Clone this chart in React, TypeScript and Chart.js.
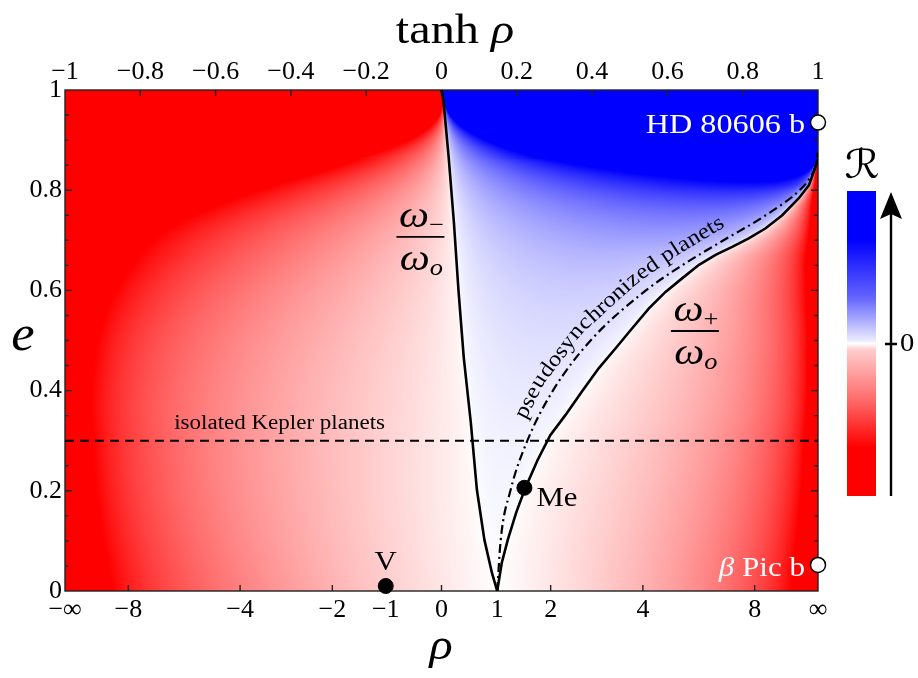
import React, { useEffect, useRef } from "react";
import { Chart, registerables } from "chart.js";

Chart.register(...registerables);

const SERIF = '"Liberation Serif", "Times New Roman", serif';

// ---------- axis data ----------
const RHO_SCALE = 6.7; // bottom axis: position = tanh(rho / RHO_SCALE)
const RHO_TICKS = [-Infinity, -8, -4, -2, -1, 0, 1, 2, 4, 8, Infinity];
const RHO_TICK_LABELS = ["−∞", "−8", "−4", "−2", "−1", "0", "1", "2", "4", "8", "∞"];
const TANH_TICKS = [-1, -0.8, -0.6, -0.4, -0.2, 0, 0.2, 0.4, 0.6, 0.8, 1];
const TANH_TICK_LABELS = ["−1", "−0.8", "−0.6", "−0.4", "−0.2", "0", "0.2", "0.4", "0.6", "0.8", "1"];
const E_TICKS = [0, 0.2, 0.4, 0.6, 0.8, 1];
const E_TICK_LABELS = ["0", "0.2", "0.4", "0.6", "0.8", "1"];
const E_MINOR_STEP = 0.05;

// ---------- curves (x in plot units, e) ----------
const OMEGA_MINUS_U = [0, 0.005, 0.019, 0.033, 0.045, 0.059, 0.078, 0.094, 0.114, 0.134, 0.148];
const OMEGA_MINUS_E = [1, 0.98, 0.866, 0.735, 0.601, 0.467, 0.335, 0.202, 0.102, 0.036, 0];

const OMEGA_PLUS_U = [0.148, 0.16, 0.176, 0.199, 0.223, 0.255, 0.289, 0.329, 0.373, 0.418, 0.462, 0.506, 0.551, 0.595, 0.639, 0.684, 0.728, 0.772, 0.816, 0.861, 0.905, 0.949, 0.976, 0.989, 1.0];
const OMEGA_PLUS_E = [0, 0.056, 0.102, 0.158, 0.206, 0.261, 0.311, 0.351, 0.398, 0.445, 0.484, 0.524, 0.564, 0.597, 0.624, 0.651, 0.671, 0.687, 0.704, 0.724, 0.75, 0.784, 0.81, 0.837, 0.862];

const PSEUDO_U = [0.148, 0.157, 0.183, 0.228, 0.296, 0.396, 0.543, 0.639, 0.749, 0.861, 0.951, 0.979, 0.994, 0.999];
const PSEUDO_E = [0, 0.1, 0.2, 0.3, 0.4, 0.5, 0.6, 0.65, 0.7, 0.75, 0.8, 0.825, 0.85, 0.875];

const KEPLER_E = 0.3;

// ---------- planets ----------
const PLANET_NAMES = ["V", "Me", "HD 80606 b", "β Pic b"];
const PLANET_RHO = [-1, 1.5, Infinity, Infinity];
const PLANET_E = [0.01, 0.206, 0.935, 0.052];

const rhoToU = (r: number) => Math.tanh(r / RHO_SCALE);
const uToRho = (u: number) => {
  const c = Math.max(-0.999999, Math.min(0.999999, u));
  return RHO_SCALE * Math.atanh(c);
};

function interpByE(es: number[], us: number[], e: number): number {
  for (let i = 0; i < es.length - 1; i++) {
    const a = es[i], b = es[i + 1];
    const lo = Math.min(a, b), hi = Math.max(a, b);
    if (e >= lo && e <= hi) {
      const t = b === a ? 0 : (e - a) / (b - a);
      return us[i] + t * (us[i + 1] - us[i]);
    }
  }
  const iMin = es[0] < es[es.length - 1] ? 0 : es.length - 1;
  const iMax = iMin === 0 ? es.length - 1 : 0;
  return e < es[iMin] ? us[iMin] : us[iMax];
}

type Part = { t: string; f: string; dy?: number };
function drawParts(ctx: CanvasRenderingContext2D, parts: Part[], x: number, y: number, align: "left" | "center" | "right", color: string, sx = 1, rot = 0, baseline: CanvasTextBaseline = "alphabetic") {
  ctx.save();
  ctx.translate(x, y);
  if (rot) ctx.rotate(rot);
  ctx.scale(sx, 1);
  ctx.fillStyle = color;
  ctx.textBaseline = baseline;
  ctx.textAlign = "left";
  const widths = parts.map((p) => { ctx.font = p.f; return ctx.measureText(p.t).width; });
  const total = widths.reduce((a, b) => a + b, 0);
  let cx = align === "left" ? 0 : align === "center" ? -total / 2 : -total;
  parts.forEach((p, i) => {
    ctx.font = p.f;
    ctx.fillText(p.t, cx, p.dy || 0);
    cx += widths[i];
  });
  ctx.restore();
}

// text that follows a pixel polyline, offset to the upper-left side
function drawTextOnPath(ctx: CanvasRenderingContext2D, text: string, pts: { x: number; y: number }[], centerS: number, offset: number, font: string, sx: number) {
  const cum = [0];
  for (let i = 1; i < pts.length; i++) cum.push(cum[i - 1] + Math.hypot(pts[i].x - pts[i - 1].x, pts[i].y - pts[i - 1].y));
  const at = (s: number) => {
    s = Math.max(0, Math.min(cum[cum.length - 1], s));
    let i = 1;
    while (i < cum.length - 1 && cum[i] < s) i++;
    const t = (s - cum[i - 1]) / Math.max(1e-9, cum[i] - cum[i - 1]);
    return { x: pts[i - 1].x + t * (pts[i].x - pts[i - 1].x), y: pts[i - 1].y + t * (pts[i].y - pts[i - 1].y) };
  };
  ctx.save();
  ctx.font = font;
  ctx.fillStyle = "#000";
  ctx.textAlign = "center";
  ctx.textBaseline = "alphabetic";
  const widths = Array.from(text).map((c) => ctx.measureText(c).width * sx);
  const total = widths.reduce((a, b) => a + b, 0);
  let s = centerS - total / 2;
  Array.from(text).forEach((c, i) => {
    const sc = s + widths[i] / 2;
    const p = at(sc);
    const a = at(sc - 14), b = at(sc + 14);
    let dx = b.x - a.x, dy = b.y - a.y;
    const L = Math.hypot(dx, dy) || 1;
    dx /= L; dy /= L;
    const nx = dy, ny = -dx;
    ctx.save();
    ctx.translate(p.x + nx * offset, p.y + ny * offset);
    ctx.rotate(Math.atan2(dy, dx));
    ctx.scale(sx, 1);
    ctx.fillText(c, 0, 0);
    ctx.restore();
    s += widths[i];
  });
  ctx.restore();
}

const fieldPlugin = {
  id: "field",
  beforeDatasetsDraw(chart: any) {
    const { ctx, chartArea } = chart;
    const xs = chart.scales.x, ys = chart.scales.y;
    const left = Math.round(chartArea.left), top = Math.round(chartArea.top);
    const w = Math.round(chartArea.right) - left, h = Math.round(chartArea.bottom) - top;
    const img = ctx.createImageData(w, h);
    const d = img.data;
    const plusMaxE = Math.max(...OMEGA_PLUS_E);
    const rhoCol: number[] = [];
    for (let i = 0; i < w; i++) rhoCol.push(uToRho(xs.getValueForPixel(left + i + 0.5)));
    for (let j = 0; j < h; j++) {
      const e = Math.max(0, Math.min(1, ys.getValueForPixel(top + j + 0.5)));
      const rm = uToRho(interpByE(OMEGA_MINUS_E, OMEGA_MINUS_U, e));
      let q = 0;
      if (e < plusMaxE) q = 1 / uToRho(interpByE(OMEGA_PLUS_E, OMEGA_PLUS_U, e));
      const ee = Math.min(e, 0.999);
      const S = Math.pow(1 - ee * ee, -3);
      for (let i = 0; i < w; i++) {
        const rho = rhoCol[i];
        const R = (rho - rm) * (1 - q * rho) * S;
        const I = Math.min(1, 0.1 * Math.sqrt(Math.abs(R)));
        const k = (j * w + i) * 4;
        const v = Math.round(255 * (1 - I));
        if (R < 0) { d[k] = 255; d[k + 1] = v; d[k + 2] = v; }
        else { d[k] = v; d[k + 1] = v; d[k + 2] = 255; }
        d[k + 3] = 255;
      }
    }
    ctx.putImageData(img, left, top);
  },
};

const framePlugin = {
  id: "frame",
  beforeDatasetsDraw(chart: any) {
    const { ctx, chartArea } = chart;
    const { left, right, top, bottom } = chartArea;
    const xs = chart.scales.x, x2 = chart.scales.x2, ys = chart.scales.y;
    ctx.save();
    ctx.strokeStyle = "#222";
    ctx.lineWidth = 1.4;
    ctx.strokeRect(left, top, right - left, bottom - top);
    ctx.beginPath();
    const n = Math.round(1 / E_MINOR_STEP);
    for (let k = 1; k < n; k++) {
      const y = ys.getPixelForValue(k * E_MINOR_STEP);
      const len = k % 4 === 0 ? 7 : 4;
      ctx.moveTo(left, y); ctx.lineTo(left + len, y);
      ctx.moveTo(right, y); ctx.lineTo(right - len, y);
    }
    TANH_TICKS.slice(1, -1).forEach((v) => {
      const x = x2.getPixelForValue(v);
      ctx.moveTo(x, top); ctx.lineTo(x, top + 6);
    });
    RHO_TICKS.slice(1, -1).forEach((r) => {
      const x = xs.getPixelForValue(rhoToU(r));
      ctx.moveTo(x, bottom); ctx.lineTo(x, bottom - 6);
    });
    ctx.stroke();
    ctx.restore();
  },
};

function fraction(ctx: CanvasRenderingContext2D, cx: number, cy: number, sub: string) {
  const big = `italic 37px ${SERIF}`;
  const small = `23px ${SERIF}`;
  const smallIt = `italic 23px ${SERIF}`;
  drawParts(ctx, [{ t: "ω", f: big }, { t: sub, f: small, dy: 5 }], cx + 1, cy - 10, "center", "#000", 1.15);
  drawParts(ctx, [{ t: "ω", f: big }, { t: "o", f: smallIt, dy: 5 }], cx + 1, cy + 33, "center", "#000", 1.15);
  ctx.save();
  ctx.strokeStyle = "#000";
  ctx.lineWidth = 1.8;
  ctx.beginPath();
  ctx.moveTo(cx - 24, cy); ctx.lineTo(cx + 24, cy);
  ctx.stroke();
  ctx.restore();
}

const labelPlugin = {
  id: "labels",
  afterDatasetsDraw(chart: any) {
    const { ctx } = chart;
    const xs = chart.scales.x, ys = chart.scales.y;
    const px = (u: number) => xs.getPixelForValue(u);
    const py = (e: number) => ys.getPixelForValue(e);

    // axis titles
    drawParts(ctx, [{ t: "tanh ", f: `42px ${SERIF}` }, { t: "ρ", f: `italic 42px ${SERIF}` }], 455, 43, "center", "#000", 1.15);
    drawParts(ctx, [{ t: "ρ", f: `italic 44px ${SERIF}` }], 441, 659, "center", "#000", 1.1);
    drawParts(ctx, [{ t: "e", f: `italic 50px ${SERIF}` }], 23, 350, "center", "#000", 1.05);

    // curve labels
    fraction(ctx, px(-0.056), py(0.707), "−");
    fraction(ctx, px(0.673), py(0.519), "+");

    // text along the pseudo-synchronisation curve
    const path: { x: number; y: number }[] = [];
    for (let i = 0; i < PSEUDO_U.length - 1; i++) {
      for (let k = 0; k < 8; k++) {
        const t = k / 8;
        const e = PSEUDO_E[i] + t * (PSEUDO_E[i + 1] - PSEUDO_E[i]);
        path.push({ x: px(interpByE(PSEUDO_E, PSEUDO_U, e)), y: py(e) });
      }
    }
    path.push({ x: px(PSEUDO_U[PSEUDO_U.length - 1]), y: py(PSEUDO_E[PSEUDO_E.length - 1]) });
    let sCenter = 0;
    for (let i = 1; i < path.length; i++) {
      if (ys.getValueForPixel(path[i].y) > 0.56) break;
      sCenter += Math.hypot(path[i].x - path[i - 1].x, path[i].y - path[i - 1].y);
    }
    drawTextOnPath(ctx, "pseudosynchronized planets", path, sCenter, 11, `22px ${SERIF}`, 1.12);

    drawParts(ctx, [{ t: "isolated Kepler planets", f: `20px ${SERIF}` }], px(-0.43), py(0.323), "center", "#000", 1.15);

    // planet labels
    const P = PLANET_RHO.map((r, i) => ({ x: px(rhoToU(r)), y: py(PLANET_E[i]) }));
    drawParts(ctx, [{ t: PLANET_NAMES[0], f: `28px ${SERIF}` }], P[0].x, P[0].y - 16, "center", "#000", 1.1);
    drawParts(ctx, [{ t: PLANET_NAMES[1], f: `28px ${SERIF}` }], P[1].x + 12, P[1].y + 18, "left", "#000", 1.1);
    drawParts(ctx, [{ t: PLANET_NAMES[2], f: `28px ${SERIF}` }], P[2].x - 13, P[2].y + 10, "right", "#fff", 1.15);
    drawParts(ctx, [{ t: "β", f: `italic 27px ${SERIF}` }, { t: PLANET_NAMES[3].slice(1), f: `27px ${SERIF}` }], P[3].x - 13, P[3].y + 11, "right", "#fff", 1.15);

    // colour bar
    const cbL = 847, cbR = 876, cbT = 191, cbB = 496;
    ctx.save();
    const g = ctx.createLinearGradient(0, cbT, 0, cbB);
    g.addColorStop(0, "rgb(0,0,255)");
    g.addColorStop(0.16, "rgb(0,0,255)");
    g.addColorStop(0.35, "rgb(100,100,255)");
    g.addColorStop(0.49, "rgb(235,235,255)");
    g.addColorStop(0.5, "rgb(255,255,255)");
    g.addColorStop(0.52, "rgb(255,205,205)");
    g.addColorStop(0.68, "rgb(255,110,110)");
    g.addColorStop(0.84, "rgb(255,0,0)");
    g.addColorStop(1, "rgb(255,0,0)");
    ctx.fillStyle = g;
    ctx.fillRect(cbL, cbT, cbR - cbL, cbB - cbT);
    ctx.strokeStyle = "#000";
    ctx.fillStyle = "#000";
    ctx.lineWidth = 2.4;
    ctx.beginPath();
    ctx.moveTo(891, cbB); ctx.lineTo(891, 214);
    ctx.moveTo(885, 344); ctx.lineTo(897, 344);
    ctx.stroke();
    ctx.beginPath();
    ctx.moveTo(880, 219); ctx.lineTo(891, 192); ctx.lineTo(902, 219); ctx.lineTo(891, 214);
    ctx.closePath();
    ctx.fill();
    ctx.restore();
    drawParts(ctx, [{ t: "0", f: `26px ${SERIF}` }], 900, 344, "left", "#000", 1.1, 0, "middle");
    drawParts(ctx, [{ t: "ℛ", f: `italic 40px "DejaVu Serif", "DejaVu Sans", serif` }], 862, 178, "center", "#000", 1.1);
  },
};

export default function App() {
  const ref = useRef<HTMLCanvasElement | null>(null);
  useEffect(() => {
    document.body.style.margin = "0";
    const canvas = ref.current;
    if (!canvas) return;
    const pts = (us: number[], es: number[]) => us.map((u, i) => ({ x: u, y: es[i] }));
    const planetPts = PLANET_RHO.map((r, i) => ({ x: rhoToU(r), y: PLANET_E[i] }));
    const tickFont = { family: SERIF, size: 26 };
    const chart = new Chart(canvas, {
      type: "scatter",
      data: {
        datasets: [
          { label: "ω−/ωo", data: pts(OMEGA_MINUS_U, OMEGA_MINUS_E), showLine: true, borderColor: "#000", borderWidth: 2.6, pointRadius: 0 },
          { label: "ω+/ωo", data: pts(OMEGA_PLUS_U, OMEGA_PLUS_E), showLine: true, borderColor: "#000", borderWidth: 2.6, pointRadius: 0 },
          { label: "pseudosynchronized planets", data: pts(PSEUDO_U, PSEUDO_E), showLine: true, borderColor: "#000", borderWidth: 2.2, borderDash: [9, 4, 2, 4], pointRadius: 0, cubicInterpolationMode: "monotone" },
          { label: "isolated Kepler planets", data: [{ x: -1, y: KEPLER_E }, { x: 1, y: KEPLER_E }], showLine: true, borderColor: "#000", borderWidth: 2, borderDash: [9, 6], pointRadius: 0 },
          { label: "solar planets", data: planetPts.slice(0, 2), showLine: false, pointRadius: 7.5, pointBackgroundColor: "#000", pointBorderColor: "#000", clip: false } as any,
          { label: "exoplanets", data: planetPts.slice(2), showLine: false, pointRadius: 7.5, pointBackgroundColor: "#fff", pointBorderColor: "#000", pointBorderWidth: 1.5, clip: false } as any,
        ],
      },
      options: {
        responsive: false,
        animation: false,
        events: [],
        layout: { padding: { left: 0, right: 100, top: 0, bottom: 0 } },
        plugins: { legend: { display: false }, tooltip: { enabled: false } },
        scales: {
          x: {
            type: "linear", position: "bottom", min: -1, max: 1,
            grid: { display: false, drawTicks: false }, border: { display: false },
            afterBuildTicks: (s: any) => { s.ticks = RHO_TICKS.map((r) => ({ value: rhoToU(r) })); },
            afterFit: (s: any) => { s.height = 87; },
            ticks: { autoSkip: false, maxRotation: 0, padding: 4, color: "#000", font: tickFont, callback: (_v: any, i: number) => RHO_TICK_LABELS[i] },
          },
          x2: {
            type: "linear", position: "top", min: -1, max: 1,
            grid: { display: false, drawTicks: false }, border: { display: false },
            afterBuildTicks: (s: any) => { s.ticks = TANH_TICKS.map((v) => ({ value: v })); },
            afterFit: (s: any) => { s.height = 90; },
            ticks: { autoSkip: false, maxRotation: 0, padding: 2, color: "#000", font: tickFont, callback: (_v: any, i: number) => TANH_TICK_LABELS[i] },
          },
          y: {
            type: "linear", position: "left", min: 0, max: 1,
            grid: { display: false, drawTicks: false }, border: { display: false },
            afterBuildTicks: (s: any) => { s.ticks = E_TICKS.map((v) => ({ value: v })); },
            afterFit: (s: any) => { s.width = 65; },
            ticks: { autoSkip: false, padding: 3, color: "#000", font: tickFont, callback: (_v: any, i: number) => E_TICK_LABELS[i] },
          },
        },
      } as any,
      plugins: [fieldPlugin, framePlugin, labelPlugin],
    });
    return () => chart.destroy();
  }, []);
  return (
    <div style={{ width: 918, height: 678 }}>
      <canvas ref={ref} width={918} height={678} style={{ display: "block" }} />
    </div>
  );
}
